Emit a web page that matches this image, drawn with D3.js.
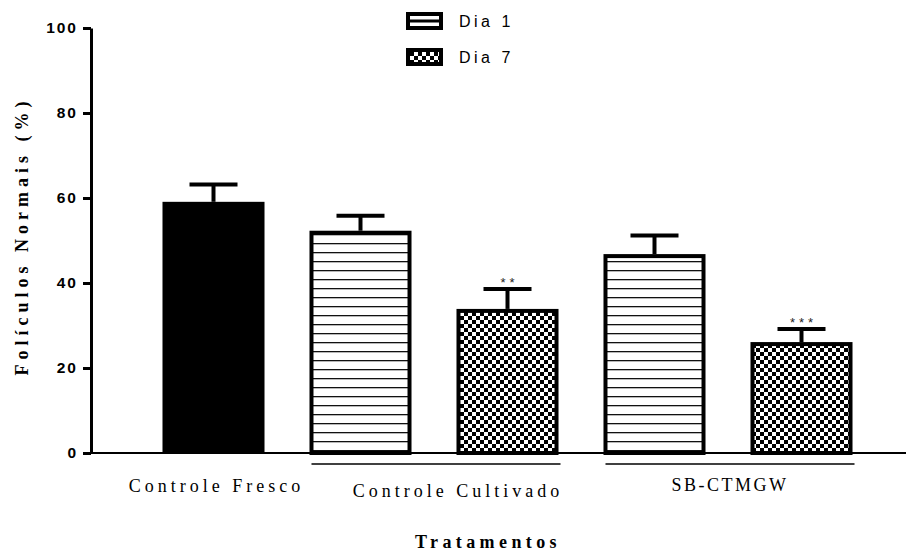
<!DOCTYPE html>
<html>
<head>
<meta charset="utf-8">
<script src="https://cdn.jsdelivr.net/npm/d3@7"></script>
<style>
  body { margin: 0; background: #fff; }
  svg { display: block; }
</style>
</head>
<body>
<div class="chart"></div>
<script>
const width = 916;
const height = 552;

// data
const groups = ['Controle Fresco', 'Controle Cultivado', 'SB-CTMGW'];
const barIds = ['fresco', 'cult-d1', 'cult-d7', 'sb-d1', 'sb-d7'];
const barGroup = ['Controle Fresco', 'Controle Cultivado', 'Controle Cultivado', 'SB-CTMGW', 'SB-CTMGW'];
const barDay = ['fresco', 'Dia 1', 'Dia 7', 'Dia 1', 'Dia 7'];
const means = [59.1, 52.3, 33.9, 46.8, 26.1];
const errors = [4.1, 3.5, 4.7, 4.4, 3.1];
const stars = ['', '', '**', '', '***'];
const legendLabels = ['Dia 1', 'Dia 7'];
const yTicks = [0, 20, 40, 60, 80, 100];

const serif = 'Liberation Serif, Times New Roman, serif';
const sans = 'Liberation Sans, Arial, sans-serif';

const svg = d3
  .select('.chart')
  .append('svg')
  .attr('width', width)
  .attr('height', height);

// patterns
const defs = svg.append('defs');
const stripes = defs
  .append('pattern')
  .attr('id', 'stripes')
  .attr('patternUnits', 'userSpaceOnUse')
  .attr('width', 8)
  .attr('height', 9);
stripes.append('rect').attr('width', 8).attr('height', 9).attr('fill', '#fff');
stripes.append('rect').attr('y', 0).attr('width', 8).attr('height', 1.3).attr('fill', '#111');

const checks = defs
  .append('pattern')
  .attr('id', 'checks')
  .attr('patternUnits', 'userSpaceOnUse')
  .attr('width', 8)
  .attr('height', 8);
checks.append('rect').attr('width', 8).attr('height', 8).attr('fill', '#fff');
checks.append('rect').attr('width', 4).attr('height', 4).attr('fill', '#000');
checks.append('rect').attr('x', 4).attr('y', 4).attr('width', 4).attr('height', 4).attr('fill', '#000');

const fills = { fresco: '#000', 'Dia 1': 'url(#stripes)', 'Dia 7': 'url(#checks)' };

// scales
const xScale = d3
  .scaleBand()
  .domain(barIds)
  .range([140, 875])
  .paddingInner(0.306)
  .paddingOuter(0.153);

const yScale = d3.scaleLinear().domain([0, 100]).range([453, 28]);

// Y axis
const yAxis = d3.axisLeft(yScale).tickValues(yTicks).tickSize(8).tickSizeOuter(0).tickPadding(5);
const yG = svg
  .append('g')
  .attr('transform', 'translate(91, 0)')
  .call(yAxis);
yG.select('.domain').attr('stroke', '#000').attr('stroke-width', 3);
yG.selectAll('.tick line').attr('stroke', '#000').attr('stroke-width', 3);
yG.selectAll('.tick text')
  .attr('font-family', sans)
  .attr('font-weight', 'bold')
  .attr('font-size', 15.5)
  .attr('letter-spacing', 2)
  .attr('fill', '#000');

// X axis baseline
svg
  .append('line')
  .attr('x1', 91)
  .attr('x2', 906)
  .attr('y1', yScale(0))
  .attr('y2', yScale(0))
  .attr('stroke', '#000')
  .attr('stroke-width', 2);

// bars
const bars = barIds.map((id, i) => ({
  id,
  group: barGroup[i],
  day: barDay[i],
  mean: means[i],
  err: errors[i],
  star: stars[i],
}));

const barG = svg.append('g');
barG
  .selectAll('rect')
  .data(bars)
  .enter()
  .append('rect')
  .attr('x', (d) => xScale(d.id) + (d.day === 'fresco' ? 0 : 2))
  .attr('y', (d) => yScale(d.mean) + (d.day === 'fresco' ? 0 : 2))
  .attr('width', (d) => xScale.bandwidth() - (d.day === 'fresco' ? 0 : 4))
  .attr('height', (d) => yScale(0) - yScale(d.mean) - (d.day === 'fresco' ? 0 : 2))
  .attr('fill', (d) => fills[d.day])
  .attr('stroke', (d) => (d.day === 'fresco' ? 'none' : '#000'))
  .attr('stroke-width', 4);

// error bars
const errG = svg.append('g').attr('stroke', '#000').attr('stroke-width', 4);
errG
  .selectAll('line.stem')
  .data(bars)
  .enter()
  .append('line')
  .attr('class', 'stem')
  .attr('x1', (d) => xScale(d.id) + xScale.bandwidth() / 2)
  .attr('x2', (d) => xScale(d.id) + xScale.bandwidth() / 2)
  .attr('y1', (d) => yScale(d.mean))
  .attr('y2', (d) => yScale(d.mean + d.err));
errG
  .selectAll('line.cap')
  .data(bars)
  .enter()
  .append('line')
  .attr('class', 'cap')
  .attr('x1', (d) => xScale(d.id) + xScale.bandwidth() / 2 - 24)
  .attr('x2', (d) => xScale(d.id) + xScale.bandwidth() / 2 + 24)
  .attr('y1', (d) => yScale(d.mean + d.err))
  .attr('y2', (d) => yScale(d.mean + d.err));

// significance stars
svg
  .append('g')
  .selectAll('text')
  .data(bars.filter((d) => d.star))
  .enter()
  .append('text')
  .attr('x', (d) => xScale(d.id) + xScale.bandwidth() / 2 + 2)
  .attr('y', (d) => yScale(d.mean + d.err) - 2)
  .attr('text-anchor', 'middle')
  .attr('font-family', sans)
  .attr('font-size', 13)
  .attr('letter-spacing', 4)
  .attr('fill', '#222')
  .text((d) => d.star);

// group lines and labels
const groupExtent = groups.map((g) => {
  const ids = bars.filter((b) => b.group === g).map((b) => b.id);
  return {
    name: g,
    x0: xScale(ids[0]),
    x1: xScale(ids[ids.length - 1]) + xScale.bandwidth(),
    n: ids.length,
  };
});

svg
  .append('g')
  .selectAll('line')
  .data(groupExtent.filter((g) => g.n > 1))
  .enter()
  .append('line')
  .attr('x1', (d) => d.x0 + 2)
  .attr('x2', (d) => d.x1 + 2)
  .attr('y1', 464)
  .attr('y2', 464)
  .attr('stroke', '#000')
  .attr('stroke-width', 1.5);

const labelShift = { 'Controle Fresco': 3, 'Controle Cultivado': 24, 'SB-CTMGW': 2 };
const labelY = { 'Controle Fresco': 492, 'Controle Cultivado': 497, 'SB-CTMGW': 491 };
const labelSpacing = { 'Controle Fresco': 4, 'Controle Cultivado': 4, 'SB-CTMGW': 2.5 };
svg
  .append('g')
  .selectAll('text')
  .data(groupExtent)
  .enter()
  .append('text')
  .attr('x', (d) => (d.x0 + d.x1) / 2 + labelShift[d.name])
  .attr('y', (d) => labelY[d.name])
  .attr('text-anchor', 'middle')
  .attr('font-family', serif)
  .attr('font-size', 18)
  .attr('letter-spacing', (d) => labelSpacing[d.name])
  .attr('fill', '#000')
  .text((d) => d.name);

// axis titles
svg
  .append('text')
  .attr('x', 488)
  .attr('y', 548)
  .attr('text-anchor', 'middle')
  .attr('font-family', serif)
  .attr('font-weight', 'bold')
  .attr('font-size', 18)
  .attr('letter-spacing', 4.4)
  .text('Tratamentos');

svg
  .append('text')
  .attr('transform', 'rotate(-90)')
  .attr('x', -236)
  .attr('y', 28)
  .attr('text-anchor', 'middle')
  .attr('font-family', serif)
  .attr('font-weight', 'bold')
  .attr('font-size', 18)
  .attr('letter-spacing', 5)
  .text('Folículos Normais (%)');

// legend
const legend = svg
  .append('g')
  .selectAll('g')
  .data(legendLabels)
  .enter()
  .append('g')
  .attr('transform', (d, i) => `translate(406, ${12 + i * 36})`);

legend
  .append('rect')
  .attr('x', 2)
  .attr('y', 2)
  .attr('width', 33)
  .attr('height', 14)
  .attr('fill', (d) => (d === 'Dia 1' ? '#fff' : 'url(#checks)'))
  .attr('stroke', '#000')
  .attr('stroke-width', 4);

legend
  .filter((d) => d === 'Dia 1')
  .append('line')
  .attr('x1', 2)
  .attr('x2', 35)
  .attr('y1', 9)
  .attr('y2', 9)
  .attr('stroke', '#000')
  .attr('stroke-width', 3);

legend
  .append('text')
  .attr('x', 53)
  .attr('y', 15)
  .attr('font-family', sans)
  .attr('font-size', 16)
  .attr('letter-spacing', 3.5)
  .attr('fill', '#000')
  .text((d) => d);
</script>
</body>
</html>
